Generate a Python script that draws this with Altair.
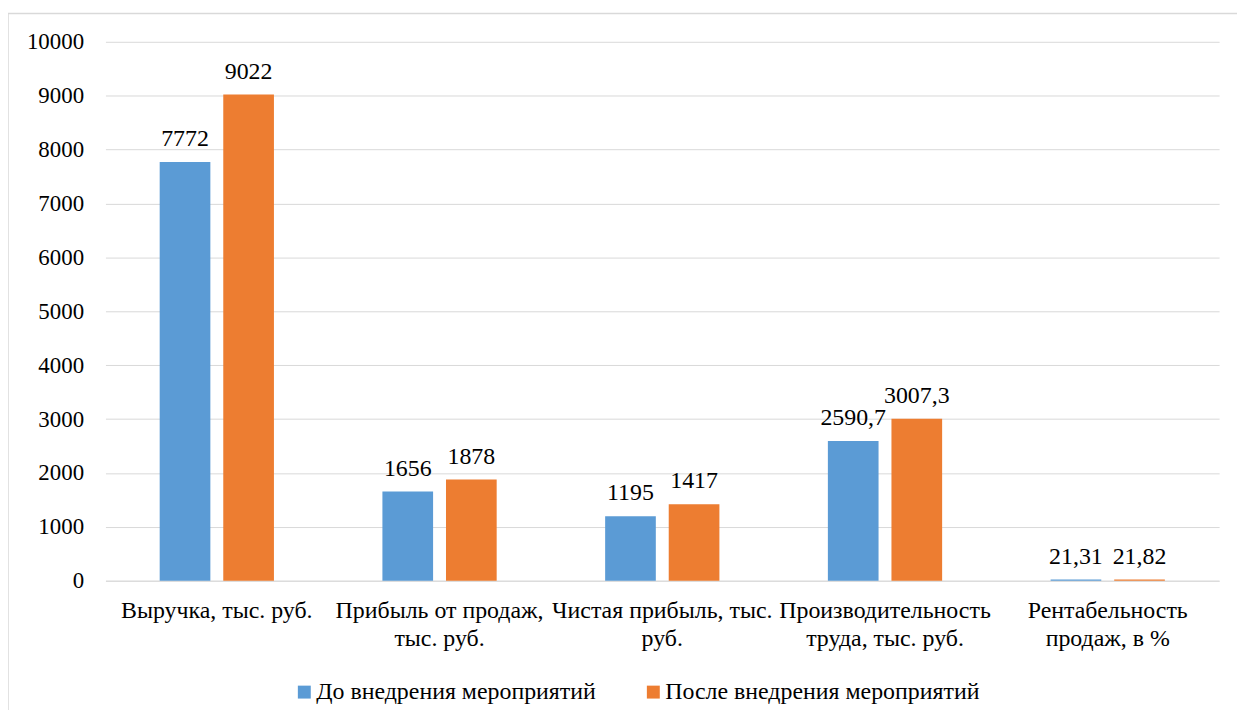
import altair as alt
import pandas as pd

categories = [
    "Выручка, тыс. руб.",
    "Прибыль от продаж,\nтыс. руб.",
    "Чистая прибыль, тыс.\nруб.",
    "Производительность\nтруда, тыс. руб.",
    "Рентабельность\nпродаж, в %",
]
series_names = ["До внедрения мероприятий", "После внедрения мероприятий"]
before = [7772, 1656, 1195, 2590.7, 21.31]
after = [9022, 1878, 1417, 3007.3, 21.82]
y_ticks = [0, 1000, 2000, 3000, 4000, 5000, 6000, 7000, 8000, 9000, 10000]
colors = ["#5B9BD5", "#ED7D31"]

FONT = "Liberation Serif"


def fmt(v):
    if float(v).is_integer():
        return str(int(v))
    return str(v).replace(".", ",")


rows = []
for c, b, a in zip(categories, before, after):
    rows.append({"cat": c, "series": series_names[0], "value": b, "label": fmt(b)})
    rows.append({"cat": c, "series": series_names[1], "value": a, "label": fmt(a)})
df = pd.DataFrame(rows)

x_enc = alt.X(
    "cat:N",
    sort=categories,
    title=None,
    scale=alt.Scale(paddingInner=0.487, paddingOuter=0.2435),
    axis=alt.Axis(
        labelAngle=0,
        labelExpr="split(datum.label, '\\n')",
        labelFont=FONT,
        labelFontSize=24,
        labelColor="#000000",
        labelLineHeight=28,
        labelPadding=18,
        ticks=False,
        domainColor="#d9d9d9",
        domainWidth=1,
        grid=False,
        labelLimit=300,
    ),
)
xoff = alt.XOffset("series:N", sort=series_names,
                   scale=alt.Scale(paddingInner=0.203, paddingOuter=0))
y_enc = alt.Y(
    "value:Q",
    title=None,
    scale=alt.Scale(domain=[0, 10000], nice=False),
    axis=alt.Axis(
        values=y_ticks,
        format="d",
        labelFont=FONT,
        labelFontSize=23,
        labelColor="#000000",
        labelPadding=22,
        ticks=False,
        domain=False,
        gridColor="#d9d9d9",
        gridWidth=1,
    ),
)

base = alt.Chart(df)

bars = base.mark_bar().encode(
    x=x_enc,
    xOffset=xoff,
    y=y_enc,
    color=alt.Color(
        "series:N",
        sort=series_names,
        scale=alt.Scale(domain=series_names, range=colors),
        legend=alt.Legend(
            title=None,
            orient="none",
            legendX=188,
            legendY=642,
            padding=0,
            direction="horizontal",
            symbolType="square",
            symbolSize=169,
            symbolStrokeWidth=0,
            labelFont=FONT,
            labelFontSize=24,
            labelColor="#000000",
            labelOffset=0,
            columnPadding=45,
            labelLimit=400,
        ),
    ),
)

texts = base.mark_text(
    font=FONT, fontSize=24, color="#000000", baseline="alphabetic", dy=-16
).encode(
    x=alt.X("cat:N", sort=categories),
    xOffset=xoff,
    y="value:Q",
    text="label:N",
)

border = alt.Chart(alt.Data(values=[{"a": 1}])).mark_rect(
    fill=None, stroke="#d9d9d9", strokeWidth=1.5
).encode(
    x=alt.value(-98),
    x2=alt.value(1400),
    y=alt.value(-28.5),
    y2=alt.value(900),
)

chart = (
    alt.layer(border, bars, texts)
    .properties(
        width=1120,
        height=542,
        autosize=alt.AutoSizeParams(type="none"),
        padding={"left": 98, "top": 32, "right": 18, "bottom": 128},
    )
    .configure(background="#ffffff", font=FONT)
    .configure_view(stroke="transparent", strokeWidth=0)
    .configure_text(font=FONT)
    .configure_axis(labelFont=FONT)
    .configure_legend(labelFont=FONT)
)

chart.save("out.html", embed_options={"renderer": "svg", "actions": False})
